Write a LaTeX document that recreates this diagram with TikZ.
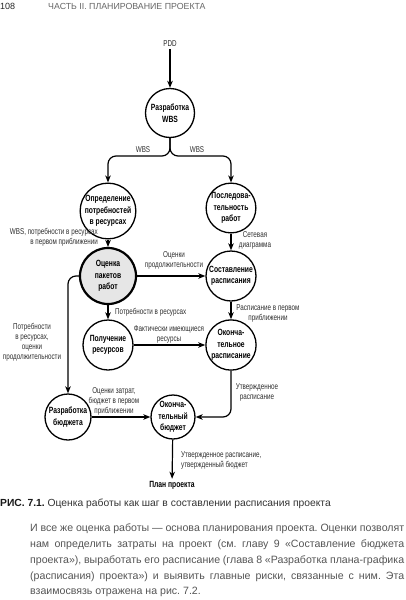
\documentclass[tikz,border=0pt]{standalone}
\usepackage{fontspec}
\setmainfont{Liberation Sans}
\newfontfamily\condfont[FakeStretch=0.75]{Liberation Sans}
\newfontfamily\lblfont[FakeStretch=0.74]{Liberation Sans}
\usetikzlibrary{arrows.meta}
\definecolor{lbl}{HTML}{2E2E2E}
\definecolor{bodytxt}{HTML}{555555}
\definecolor{hdrtxt}{HTML}{666666}
\definecolor{estfill}{HTML}{E6E6E6}
\frenchspacing
\begin{document}
\begin{tikzpicture}[x=1pt,y=-1pt,
  proc/.style={circle, draw, line width=1.3pt, inner sep=0pt, align=center,
    font=\condfont\bfseries\fontsize{9}{11.5}\selectfont},
  keyproc/.style={proc, line width=2.2pt, fill=estfill},
  elabel/.style={font=\lblfont\fontsize{8.5}{10}\selectfont, text=lbl, inner sep=0pt, align=center},
  endtxt/.style={font=\condfont\bfseries\fontsize{9}{11}\selectfont, inner sep=2pt},
  arr/.style={-{Stealth[length=7pt,width=5.5pt,inset=2pt]}, line width=1.2pt},
  bodyline/.style={anchor=base west, inner sep=0pt, text=bodytxt, font=\fontsize{10.6}{16}\selectfont\frenchspacing}
]
\useasboundingbox (0,0) rectangle (405,600);

% header
\node[anchor=base west, inner sep=0pt, font=\fontsize{9}{11}\selectfont, text=black!85] (pg) at (0,9) {108};
\node[anchor=base west, inner sep=0pt, font=\fontsize{8.8}{10}\selectfont, text=hdrtxt] (hdr) at (48,9) {ЧАСТЬ II. ПЛАНИРОВАНИЕ ПРОЕКТА};

% nodes
\node[elabel, inner sep=2pt, text=black!85] (pdd) at (170,44) {PDD};
\node[proc, minimum size=49pt] (wbs) at (170,113) {Разработка\\WBS};
\node[proc, minimum size=48pt] (res) at (108,211) {Определение\\потребностей\\в ресурсах};
\node[proc, minimum size=49pt] (seq) at (231,208) {Последова-\\тельность\\работ};
\node[keyproc, minimum size=56pt] (est) at (108,276) {Оценка\\пакетов\\работ};
\node[proc, minimum size=50pt] (sch) at (231,276) {Составление\\расписания};
\node[proc, minimum size=50pt] (acq) at (108,345) {Получение\\ресурсов};
\node[proc, minimum size=50pt] (fsch) at (231,345) {Оконча-\\тельное\\расписание};
\node[proc, minimum size=46pt] (bud) at (68,417) {Разработка\\бюджета};
\node[proc, minimum size=44pt] (fbud) at (173,417) {Оконча-\\тельный\\бюджет};
\node[endtxt] (plan) at (172,485) {План проекта};

% connectors
\coordinate (j1) at (170,156);
\draw[arr] (pdd) -- (wbs);
\draw[arr, rounded corners=8] (wbs) -- (j1) -| (res);
\draw[arr, rounded corners=8] (wbs) -- (j1) -| (seq);
\draw[arr] (res) -- (est);
\draw[arr] (seq) -- (sch);
\draw[arr] (est) -- (sch);
\draw[arr] (est) -- (acq);
\draw[arr] (sch) -- (fsch);
\draw[arr] (acq) -- (fsch);
\draw[arr, rounded corners=8] (est) -| (bud);
\draw[arr] (bud) -- (fbud);
\draw[arr, rounded corners=8] (fsch) |- (fbud);
\draw[arr] (fbud) -- (plan);

% connector labels
\node[elabel] (lw1) at (143,150) {WBS};
\node[elabel] (lw2) at (197,150) {WBS};
\node[elabel, align=right, anchor=east] (lres) at (98,237) {WBS, потребности в ресурсах\\в первом приближении};
\node[elabel] (lseq) at (255,240) {Сетевая\\диаграмма};
\node[elabel] (lest) at (174,260) {Оценки\\продолжительности};
\node[elabel, anchor=west] (lacq) at (115,312) {Потребности в ресурсах};
\node[elabel] (lsch) at (268,313) {Расписание в первом\\приближении};
\node[elabel] (lfact) at (169,334) {Фактически имеющиеся\\ресурсы};
\node[elabel] (lbud) at (32,342) {Потребности\\в ресурсах,\\оценки\\продолжительности};
\node[elabel] (lcost) at (114,401) {Оценки затрат,\\бюджет в первом\\приближении};
\node[elabel] (lfs) at (257,392) {Утвержденное\\расписание};
\node[elabel, align=left, anchor=west] (lplan) at (181,460) {Утвержденное расписание,\\утвержденный бюджет};

% caption
\node[anchor=base west, inner sep=0pt, font=\fontsize{10.3}{12}\selectfont, text=black!80] (cap) at (0,506)
  {{\bfseries\color{black!90}РИС. 7.1.} Оценка работы как шаг в составлении расписания проекта};

% body text
\node[bodyline] (b1) at (30,531) {\makebox[374pt][s]{И все же оценка работы — основа планирования проекта. Оценки позволят}};
\node[bodyline] (b2) at (30,547) {\makebox[374pt][s]{нам определить затраты на проект (см. главу 9 «Составление бюджета}};
\node[bodyline] (b3) at (30,563) {\makebox[374pt][s]{проекта»), выработать его расписание (глава 8 «Разработка плана-графика}};
\node[bodyline] (b4) at (30,579) {\makebox[374pt][s]{(расписания) проекта») и выявить главные риски, связанные с ним. Эта}};
\node[bodyline] (b5) at (30,594) {взаимосвязь отражена на рис. 7.2.};
\end{tikzpicture}
\end{document}
